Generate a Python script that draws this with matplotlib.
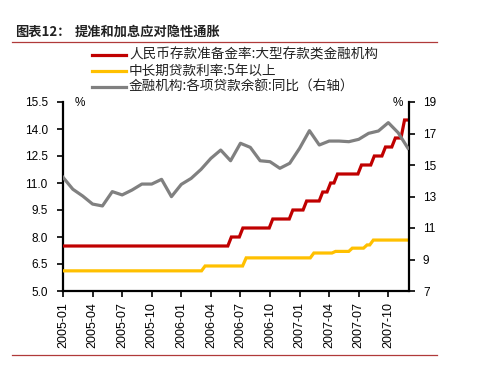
import matplotlib
matplotlib.use("Agg")
import matplotlib.pyplot as plt
from matplotlib.lines import Line2D

plt.rcParams['font.family'] = ['Liberation Sans', 'Noto Sans CJK SC', 'DejaVu Sans']

# ---------------- data ----------------
months = [f"{y}-{m:02d}" for y in (2005, 2006, 2007) for m in range(1, 13)]
tick_labels = months[::3]

# loan growth yoy (right axis), monthly 2005-01 .. 2007-12
loan_yoy = [14.22, 13.46, 13.03, 12.52, 12.40, 13.31, 13.10, 13.41, 13.79, 13.79, 14.09, 12.99,
            13.77, 14.15, 14.72, 15.42, 15.95, 15.27, 16.38, 16.12, 15.27, 15.21, 14.79, 15.11,
            16.06, 17.18, 16.27, 16.52, 16.52, 16.48, 16.63, 17.01, 17.16, 17.69, 17.05, 16.06]

# reserve requirement ratio (large institutions), as drawn
rrr_start = 7.5
rrr_dates = ["2006-05-28", "2006-07-03", "2006-10-04", "2006-12-05", "2007-01-17", "2007-03-06",
             "2007-03-30", "2007-04-21", "2007-07-04", "2007-08-13", "2007-09-17", "2007-10-17",
             "2007-11-15"]
rrr_vals = [8.0, 8.5, 9.0, 9.5, 10.0, 10.5, 11.0, 11.5, 12.0, 12.5, 13.0, 13.5, 14.5]

# long-term lending rate (5y+), as drawn
lr_start = 6.12
lr_dates = ["2006-03-08", "2006-07-13", "2007-02-09", "2007-04-15", "2007-06-06", "2007-07-21",
            "2007-08-10"]
lr_vals = [6.39, 6.84, 7.11, 7.20, 7.38, 7.56, 7.83]

start_date = "2005-01-01"
end_date = "2007-12-01"


def mpos(d):
    y, m, dd = (int(v) for v in d.split("-"))
    return (y - 2005) * 12 + (m - 1) + (dd - 1) / 30.0


def step_series(start_val, dates, vals, half=0.18):
    xs = [mpos(start_date)]
    ys = [start_val]
    cur = start_val
    for d, v in zip(dates, vals):
        p = mpos(d)
        xs += [p - half, p + half]
        ys += [cur, v]
        cur = v
    xs.append(mpos(end_date))
    ys.append(cur)
    return xs, ys


W, H = 479, 366
fig = plt.figure(figsize=(W / 100, H / 100), dpi=100)
fig.patch.set_facecolor('white')

ax = fig.add_axes([63 / W, 1 - 291 / H, (409 - 63) / W, (291 - 102) / H])
ax2 = ax.twinx()

RED = '#C00000'
YEL = '#FFC000'
GRY = '#808080'

rx, ry = step_series(rrr_start, rrr_dates, rrr_vals)
yx, yy = step_series(lr_start, lr_dates, lr_vals)
ax.plot(rx, ry, color=RED, lw=2.3, solid_joinstyle='miter', zorder=3)
ax.plot(yx, yy, color=YEL, lw=2.3, solid_joinstyle='miter', zorder=3)
ax2.plot(range(len(loan_yoy)), loan_yoy, color=GRY, lw=2.3, zorder=3)

ax.set_xlim(0, 35.1)
ax.set_ylim(5.0, 15.5)
ax2.set_ylim(7, 19)
ax.set_yticks([5.0 + 1.5 * i for i in range(8)])
ax.set_yticklabels([f"{5.0 + 1.5 * i:.1f}" for i in range(8)])
ax2.set_yticks(list(range(7, 20, 2)))
ax.set_xticks(list(range(0, 36, 3)))
ax.set_xticklabels(tick_labels, rotation=90)

for a in (ax, ax2):
    a.spines['top'].set_visible(False)
    for s in ('left', 'right', 'bottom'):
        a.spines[s].set_linewidth(1.6)
        a.spines[s].set_color('black')
ax.spines['right'].set_visible(False)
ax2.spines['left'].set_visible(False)
ax2.spines['bottom'].set_visible(False)

ax.tick_params(axis='y', direction='out', length=4, width=1.2, pad=7, labelsize=8.5)
ax.tick_params(axis='x', direction='out', length=4, width=1.2, pad=4, labelsize=9)
ax2.tick_params(axis='y', direction='out', length=4, width=1.2, pad=6, labelsize=8.5)

ax.text(80 / W, 1 - 103 / H, '%', transform=fig.transFigure, fontsize=8.5, ha='center', va='center')
ax.text(398 / W, 1 - 103 / H, '%', transform=fig.transFigure, fontsize=8.5, ha='center', va='center')

# title
cjk = ['Noto Sans CJK SC', 'DejaVu Sans']
fig.text(15 / W, 1 - 32 / H, '图表12：', family=cjk, fontsize=9.5, fontweight='bold',
         ha='left', va='center', color='#222222')
fig.text(75 / W, 1 - 32 / H, '提准和加息应对隐性通胀', family=cjk, fontsize=9.5, fontweight='bold',
         ha='left', va='center', color='#222222')
fig.add_artist(Line2D([12 / W, 437 / W], [1 - 41.5 / H, 1 - 41.5 / H], color='#B03A3A', lw=0.9))
fig.add_artist(Line2D([12 / W, 437 / W], [1 - 354.5 / H, 1 - 354.5 / H], color='#B03A3A', lw=0.9))

# legend
legend_items = [
    ('人民币存款准备金率:大型存款类金融机构', RED),
    ('中长期贷款利率:5年以上', YEL),
    ('金融机构:各项贷款余额:同比（右轴）', GRY),
]
for i, (lab, col) in enumerate(legend_items):
    yp = 1 - (55 + 15.8 * i) / H
    fig.add_artist(Line2D([92 / W, 126 / W], [yp, yp], color=col, lw=2.3))
    fig.text(129 / W, yp, lab, family=cjk, fontsize=9.8, ha='left', va='center', color='#222222')

fig.savefig('out.png', dpi=100)
